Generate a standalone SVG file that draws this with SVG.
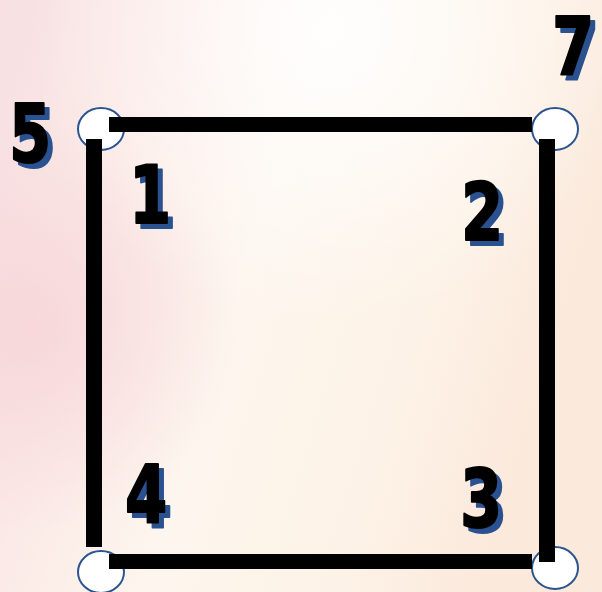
<svg xmlns="http://www.w3.org/2000/svg" width="602" height="592" viewBox="0 0 602 592">
  <defs>
    <linearGradient id="bg" x1="0" y1="0" x2="1" y2="0.3">
      <stop offset="0" stop-color="#f7dfe2"/>
      <stop offset="0.25" stop-color="#fbe9e6"/>
      <stop offset="0.5" stop-color="#fdf6ee"/>
      <stop offset="0.8" stop-color="#fdf2e6"/>
      <stop offset="1" stop-color="#fbe9dc"/>
    </linearGradient>
    <radialGradient id="glow" cx="0.55" cy="0.05" r="0.5">
      <stop offset="0" stop-color="#ffffff" stop-opacity="0.9"/>
      <stop offset="1" stop-color="#ffffff" stop-opacity="0"/>
    </radialGradient>
    <radialGradient id="pink" cx="0.05" cy="0.55" r="0.35">
      <stop offset="0" stop-color="#f6d3d8" stop-opacity="0.8"/>
      <stop offset="1" stop-color="#f6d3d8" stop-opacity="0"/>
    </radialGradient>
  </defs>
  <style>
    .edge { fill: #000000; }
    .corner { fill: #ffffff; stroke: #2b5490; stroke-width: 2; }
    .num { font-family: "DejaVu Sans", "Liberation Sans", sans-serif; font-weight: bold; font-size: 80px; stroke-width: 2; stroke-linejoin: round; }
    .shadow { fill: #2a5190; stroke: #2a5190; }
    .ink { fill: #000000; stroke: #000000; }
  </style>
  <rect width="602" height="592" fill="url(#bg)"/>
  <rect width="602" height="592" fill="url(#pink)"/>
  <rect width="602" height="592" fill="url(#glow)"/>

  <g id="corner-tl"><ellipse class="corner" cx="101" cy="129" rx="23" ry="21"/></g>
  <g id="corner-tr"><ellipse class="corner" cx="555" cy="129" rx="23" ry="21"/></g>
  <g id="corner-br"><ellipse class="corner" cx="555" cy="568" rx="23" ry="21"/></g>
  <g id="corner-bl"><ellipse class="corner" cx="101" cy="572" rx="23" ry="21"/></g>

  <g id="connectors">
    <rect class="edge" x="109" y="117" width="423" height="15"/>
    <rect class="edge" x="86" y="139" width="16" height="408"/>
    <rect class="edge" x="539" y="139" width="16" height="423"/>
    <rect class="edge" x="109" y="554" width="423" height="15"/>
  </g>

  <g id="label-5" class="num">
    <text class="shadow" transform="translate(14,167) scale(0.76,1)">5</text>
    <text class="ink" transform="translate(9,162) scale(0.76,1)">5</text>
  </g>
  <g id="label-1" class="num">
    <text class="shadow" transform="translate(134,228) scale(0.76,1)">1</text>
    <text class="ink" transform="translate(129,223) scale(0.76,1)">1</text>
  </g>
  <g id="label-7" class="num">
    <text class="shadow" transform="translate(557,79) scale(0.76,1)">7</text>
    <text class="ink" transform="translate(552,74) scale(0.76,1)">7</text>
  </g>
  <g id="label-2" class="num">
    <text class="shadow" transform="translate(466,245) scale(0.76,1)">2</text>
    <text class="ink" transform="translate(461,240) scale(0.76,1)">2</text>
  </g>
  <g id="label-4" class="num">
    <text class="shadow" transform="translate(130,528) scale(0.76,1)">4</text>
    <text class="ink" transform="translate(125,523) scale(0.76,1)">4</text>
  </g>
  <g id="label-3" class="num">
    <text class="shadow" transform="translate(465,532) scale(0.76,1)">3</text>
    <text class="ink" transform="translate(460,527) scale(0.76,1)">3</text>
  </g>
</svg>
